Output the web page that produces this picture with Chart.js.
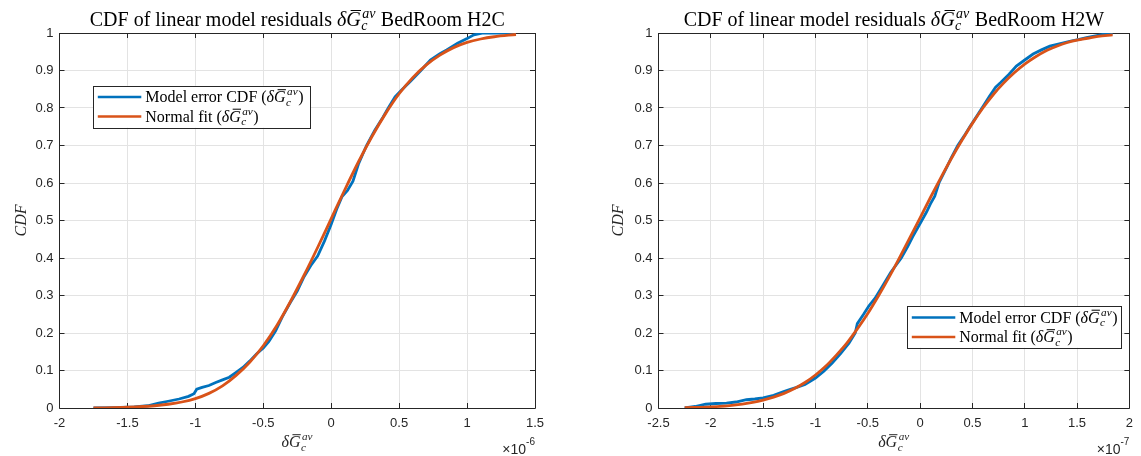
<!DOCTYPE html>
<html>
<head>
<meta charset="utf-8">
<script src="https://cdn.jsdelivr.net/npm/chart.js@4"></script>
<style>
  html, body { margin: 0; padding: 0; background: #fff; }
  #wrap { position: relative; width: 1141px; height: 456px; overflow: hidden; }
  canvas { position: absolute; top: 0; }
  #c1 { left: 0; }
  #c2 { left: 570px; }
</style>
</head>
<body>
<div id="wrap">
  <canvas id="c1" width="570" height="456"></canvas>
  <canvas id="c2" width="571" height="456"></canvas>
</div>
<script>
// residuals in units of 1e-6 (H2C) and 1e-7 (H2W)
const h2cErrX   = [-1.75, -1.60, -1.45, -1.35, -1.27, -1.20, -1.12, -1.05, -1.01, -0.99, -0.95, -0.90, -0.85, -0.80, -0.75, -0.70, -0.65, -0.60, -0.55, -0.50, -0.46, -0.41, -0.36, -0.30, -0.25, -0.20, -0.15, -0.10, -0.05, 0.00, 0.04, 0.08, 0.12, 0.16, 0.20, 0.26, 0.32, 0.38, 0.42, 0.47, 0.52, 0.58, 0.66, 0.73, 0.80, 0.85, 0.93, 1.00, 1.05, 1.12, 1.36];
const h2cErrCdf = [0.000, 0.001, 0.003, 0.006, 0.013, 0.018, 0.024, 0.031, 0.038, 0.050, 0.055, 0.060, 0.068, 0.075, 0.082, 0.095, 0.108, 0.125, 0.144, 0.160, 0.177, 0.205, 0.243, 0.282, 0.312, 0.350, 0.380, 0.405, 0.445, 0.490, 0.530, 0.564, 0.580, 0.605, 0.650, 0.700, 0.740, 0.775, 0.800, 0.830, 0.849, 0.870, 0.900, 0.928, 0.945, 0.955, 0.973, 0.985, 0.995, 1.000, 1.000];
const h2cFitX   = [-1.75, -1.50, -1.30, -1.20, -1.10, -1.00, -0.90, -0.80, -0.70, -0.60, -0.50, -0.40, -0.30, -0.20, -0.10, 0.00, 0.10, 0.20, 0.30, 0.40, 0.50, 0.60, 0.70, 0.80, 0.90, 1.00, 1.10, 1.20, 1.36];
const h2cFitCdf = [0.000, 0.002, 0.006, 0.010, 0.016, 0.025, 0.039, 0.059, 0.087, 0.122, 0.166, 0.220, 0.284, 0.354, 0.428, 0.505, 0.582, 0.656, 0.724, 0.785, 0.838, 0.881, 0.915, 0.941, 0.961, 0.975, 0.984, 0.990, 0.996];

const h2wErrX   = [-2.25, -2.15, -2.05, -1.95, -1.85, -1.76, -1.66, -1.58, -1.50, -1.40, -1.31, -1.24, -1.18, -1.10, -1.00, -0.92, -0.84, -0.76, -0.68, -0.62, -0.60, -0.54, -0.49, -0.43, -0.36, -0.28, -0.18, -0.12, -0.07, 0.00, 0.06, 0.10, 0.14, 0.18, 0.26, 0.30, 0.36, 0.42, 0.48, 0.55, 0.61, 0.66, 0.72, 0.77, 0.85, 0.92, 1.00, 1.08, 1.16, 1.24, 1.34, 1.43, 1.52, 1.59, 1.70, 1.80, 1.84];
const h2wErrCdf = [0.000, 0.004, 0.010, 0.012, 0.013, 0.016, 0.022, 0.024, 0.027, 0.034, 0.043, 0.050, 0.055, 0.063, 0.080, 0.098, 0.120, 0.145, 0.173, 0.200, 0.225, 0.250, 0.272, 0.293, 0.325, 0.362, 0.400, 0.430, 0.457, 0.492, 0.522, 0.545, 0.565, 0.600, 0.645, 0.668, 0.700, 0.725, 0.752, 0.782, 0.808, 0.830, 0.855, 0.868, 0.890, 0.912, 0.928, 0.944, 0.955, 0.965, 0.972, 0.978, 0.983, 0.988, 0.994, 0.999, 1.000];
const h2wFitX   = [-2.25, -2.00, -1.80, -1.60, -1.50, -1.40, -1.30, -1.20, -1.10, -1.00, -0.90, -0.80, -0.70, -0.60, -0.50, -0.40, -0.30, -0.20, -0.10, 0.00, 0.10, 0.20, 0.30, 0.40, 0.50, 0.60, 0.70, 0.80, 0.90, 1.00, 1.10, 1.20, 1.30, 1.40, 1.50, 1.60, 1.70, 1.84];
const h2wFitCdf = [0.001, 0.003, 0.007, 0.015, 0.021, 0.029, 0.039, 0.052, 0.068, 0.088, 0.112, 0.141, 0.173, 0.211, 0.252, 0.298, 0.347, 0.399, 0.453, 0.507, 0.562, 0.615, 0.666, 0.714, 0.759, 0.800, 0.836, 0.867, 0.894, 0.917, 0.936, 0.952, 0.964, 0.974, 0.981, 0.986, 0.991, 0.995];

const h2cXTicks = [-2, -1.5, -1, -0.5, 0, 0.5, 1, 1.5];
const h2wXTicks = [-2.5, -2, -1.5, -1, -0.5, 0, 0.5, 1, 1.5, 2];
const cdfTicks  = [0, 0.1, 0.2, 0.3, 0.4, 0.5, 0.6, 0.7, 0.8, 0.9, 1];

const SERIF = '"Liberation Serif", "Times New Roman", serif';
const SANS = '"Liberation Sans", Arial, sans-serif';
const INK = '#262626';
const BLUE = '#0072BD';
const ORANGE = '#D95319';

function serif(size, it) { return (it ? 'italic ' : '') + size + 'px ' + SERIF; }

// delta G-bar with sub c and sup av
function sym(size) {
  return [
    { s: '\u03B4', size: size, it: true },
    { s: 'G', size: size, it: true, bar: true },
    { sup: 'av', sub: 'c', size: size * 0.7 }
  ];
}

function partWidth(ctx, p) {
  if (p.sup !== undefined) {
    ctx.font = serif(p.size, true);
    return Math.max(ctx.measureText(p.sup).width, ctx.measureText(p.sub).width) + 2;
  }
  ctx.font = serif(p.size, p.it);
  return ctx.measureText(p.s).width;
}

function drawRich(ctx, parts, x, y, align) {
  const ws = parts.map(p => partWidth(ctx, p));
  const total = ws.reduce((a, b) => a + b, 0);
  let cx = align === 'center' ? x - total / 2 : (align === 'right' ? x - total : x);
  ctx.textAlign = 'left';
  ctx.textBaseline = 'alphabetic';
  parts.forEach((p, i) => {
    if (p.sup !== undefined) {
      const base = p.size / 0.7;
      ctx.font = serif(p.size, true);
      ctx.fillText(p.sup, cx + 1.5, y - base * 0.42);
      ctx.fillText(p.sub, cx + 0.5, y + base * 0.22);
    } else {
      ctx.font = serif(p.size, p.it);
      ctx.fillText(p.s, cx, y);
      if (p.bar) {
        ctx.fillRect(cx + p.size * 0.22, y - p.size * 0.8, ws[i] * 0.72, Math.max(1, p.size * 0.05));
      }
    }
    cx += ws[i];
  });
}

const fmt = v => String(Math.round(v * 10) / 10);

// axes box, inward ticks, titles, labels, legend
const decor = {
  id: 'decor',
  beforeDatasetsDraw(chart) {
    const { ctx, chartArea: a, scales: { x, y } } = chart;
    const al = v => Math.round(v - 0.5) + 0.5;
    ctx.save();
    ctx.strokeStyle = INK;
    ctx.lineWidth = 1;
    ctx.beginPath();
    x.ticks.forEach(t => {
      const px = al(x.getPixelForValue(t.value));
      ctx.moveTo(px, a.bottom); ctx.lineTo(px, a.bottom - 5);
      ctx.moveTo(px, a.top); ctx.lineTo(px, a.top + 5);
    });
    y.ticks.forEach(t => {
      const py = al(y.getPixelForValue(t.value));
      ctx.moveTo(a.left, py); ctx.lineTo(a.left + 5, py);
      ctx.moveTo(a.right, py); ctx.lineTo(a.right - 5, py);
    });
    ctx.rect(al(a.left), al(a.top), Math.round(a.right - a.left), Math.round(a.bottom - a.top));
    ctx.stroke();
    ctx.restore();
  },
  afterDraw(chart, args, o) {
    const { ctx, chartArea: a } = chart;
    const cx = (a.left + a.right) / 2;
    ctx.save();
    ctx.fillStyle = '#000';
    drawRich(ctx, [{ s: 'CDF of linear model residuals ', size: 20 }].concat(sym(20), [{ s: ' ' + o.room, size: 20 }]), cx, 26, 'center');

    ctx.fillStyle = INK;
    drawRich(ctx, sym(16), cx, 447, 'center');

    ctx.save();
    ctx.translate(o.ylabX, (a.top + a.bottom) / 2);
    ctx.rotate(-Math.PI / 2);
    drawRich(ctx, [{ s: 'CDF', size: 16, it: true }], 0, 5.5, 'center');
    ctx.restore();

    // exponent
    ctx.font = '10px ' + SANS;
    ctx.textAlign = 'right';
    ctx.textBaseline = 'alphabetic';
    const ew = ctx.measureText(o.exp).width;
    ctx.fillText(o.exp, a.right, 445);
    ctx.font = '14px ' + SANS;
    ctx.fillText('\u00D710', a.right - ew, 454);

    // legend
    const L = o.legend;
    ctx.fillStyle = '#fff';
    ctx.fillRect(L.x, L.y, L.w, L.h);
    ctx.strokeStyle = INK;
    ctx.lineWidth = 1;
    ctx.strokeRect(Math.round(L.x) + 0.5, Math.round(L.y) + 0.5, Math.round(L.w), Math.round(L.h));
    const rows = [
      { c: BLUE, parts: [{ s: 'Model error CDF (', size: 16 }].concat(sym(16), [{ s: ')', size: 16 }]) },
      { c: ORANGE, parts: [{ s: 'Normal fit (', size: 16 }].concat(sym(16), [{ s: ')', size: 16 }]) }
    ];
    rows.forEach((r, i) => {
      const ry = L.y + 11.3 + i * 19.5;
      ctx.strokeStyle = r.c;
      ctx.lineWidth = 2.6;
      ctx.beginPath();
      ctx.moveTo(L.x + 4.5, ry);
      ctx.lineTo(L.x + 48, ry);
      ctx.stroke();
      ctx.fillStyle = '#000';
      drawRich(ctx, r.parts, L.x + 52, ry + 5, 'left');
    });
    ctx.restore();
  }
};

function makeChart(id, errX, errCdf, fitX, fitCdf, xTicks, xmin, xmax, yAxisW, padRight, opts) {
  new Chart(document.getElementById(id), {
    type: 'scatter',
    data: {
      datasets: [
        {
          label: 'Normal fit',
          data: fitX.map((v, i) => ({ x: v, y: fitCdf[i] })),
          showLine: true, borderColor: ORANGE, borderWidth: 2.8,
          pointRadius: 0, cubicInterpolationMode: 'monotone', order: 0
        },
        {
          label: 'Model error CDF',
          data: errX.map((v, i) => ({ x: v, y: errCdf[i] })),
          showLine: true, borderColor: BLUE, borderWidth: 2.8,
          pointRadius: 0, tension: 0, order: 1
        }
      ]
    },
    options: {
      responsive: false,
      animation: false,
      events: [],
      layout: { padding: { left: 0, top: 33, right: padRight, bottom: 0 } },
      plugins: { legend: { display: false }, tooltip: { enabled: false }, decor: opts },
      scales: {
        x: {
          type: 'linear', min: xmin, max: xmax,
          afterBuildTicks: s => { s.ticks = xTicks.map(v => ({ value: v })); },
          afterFit: s => { s.height = 48; },
          grid: { color: '#e3e3e3', drawTicks: false },
          border: { display: false },
          ticks: { padding: 8, color: INK, font: { family: SANS, size: 13 }, maxRotation: 0, autoSkip: false, callback: fmt }
        },
        y: {
          min: 0, max: 1,
          afterBuildTicks: s => { s.ticks = cdfTicks.map(v => ({ value: v })); },
          afterFit: s => { s.width = yAxisW; },
          grid: { color: '#e3e3e3', drawTicks: false },
          border: { display: false },
          ticks: { padding: 6, color: INK, font: { family: SANS, size: 13 }, autoSkip: false, callback: fmt }
        }
      }
    },
    plugins: [decor]
  });
}

makeChart('c1', h2cErrX, h2cErrCdf, h2cFitX, h2cFitCdf, h2cXTicks, -2, 1.5, 59.5, 35,
  { room: 'BedRoom H2C', exp: '-6', ylabX: 20, legend: { x: 93.3, y: 85.7, w: 216.7, h: 42 } });
makeChart('c2', h2wErrX, h2wErrCdf, h2wFitX, h2wFitCdf, h2wXTicks, -2.5, 2, 88.5, 7.5,
  { room: 'BedRoom H2W', exp: '-7', ylabX: 47, legend: { x: 337.3, y: 306.2, w: 214.4, h: 41.5 } });
</script>
</body>
</html>
